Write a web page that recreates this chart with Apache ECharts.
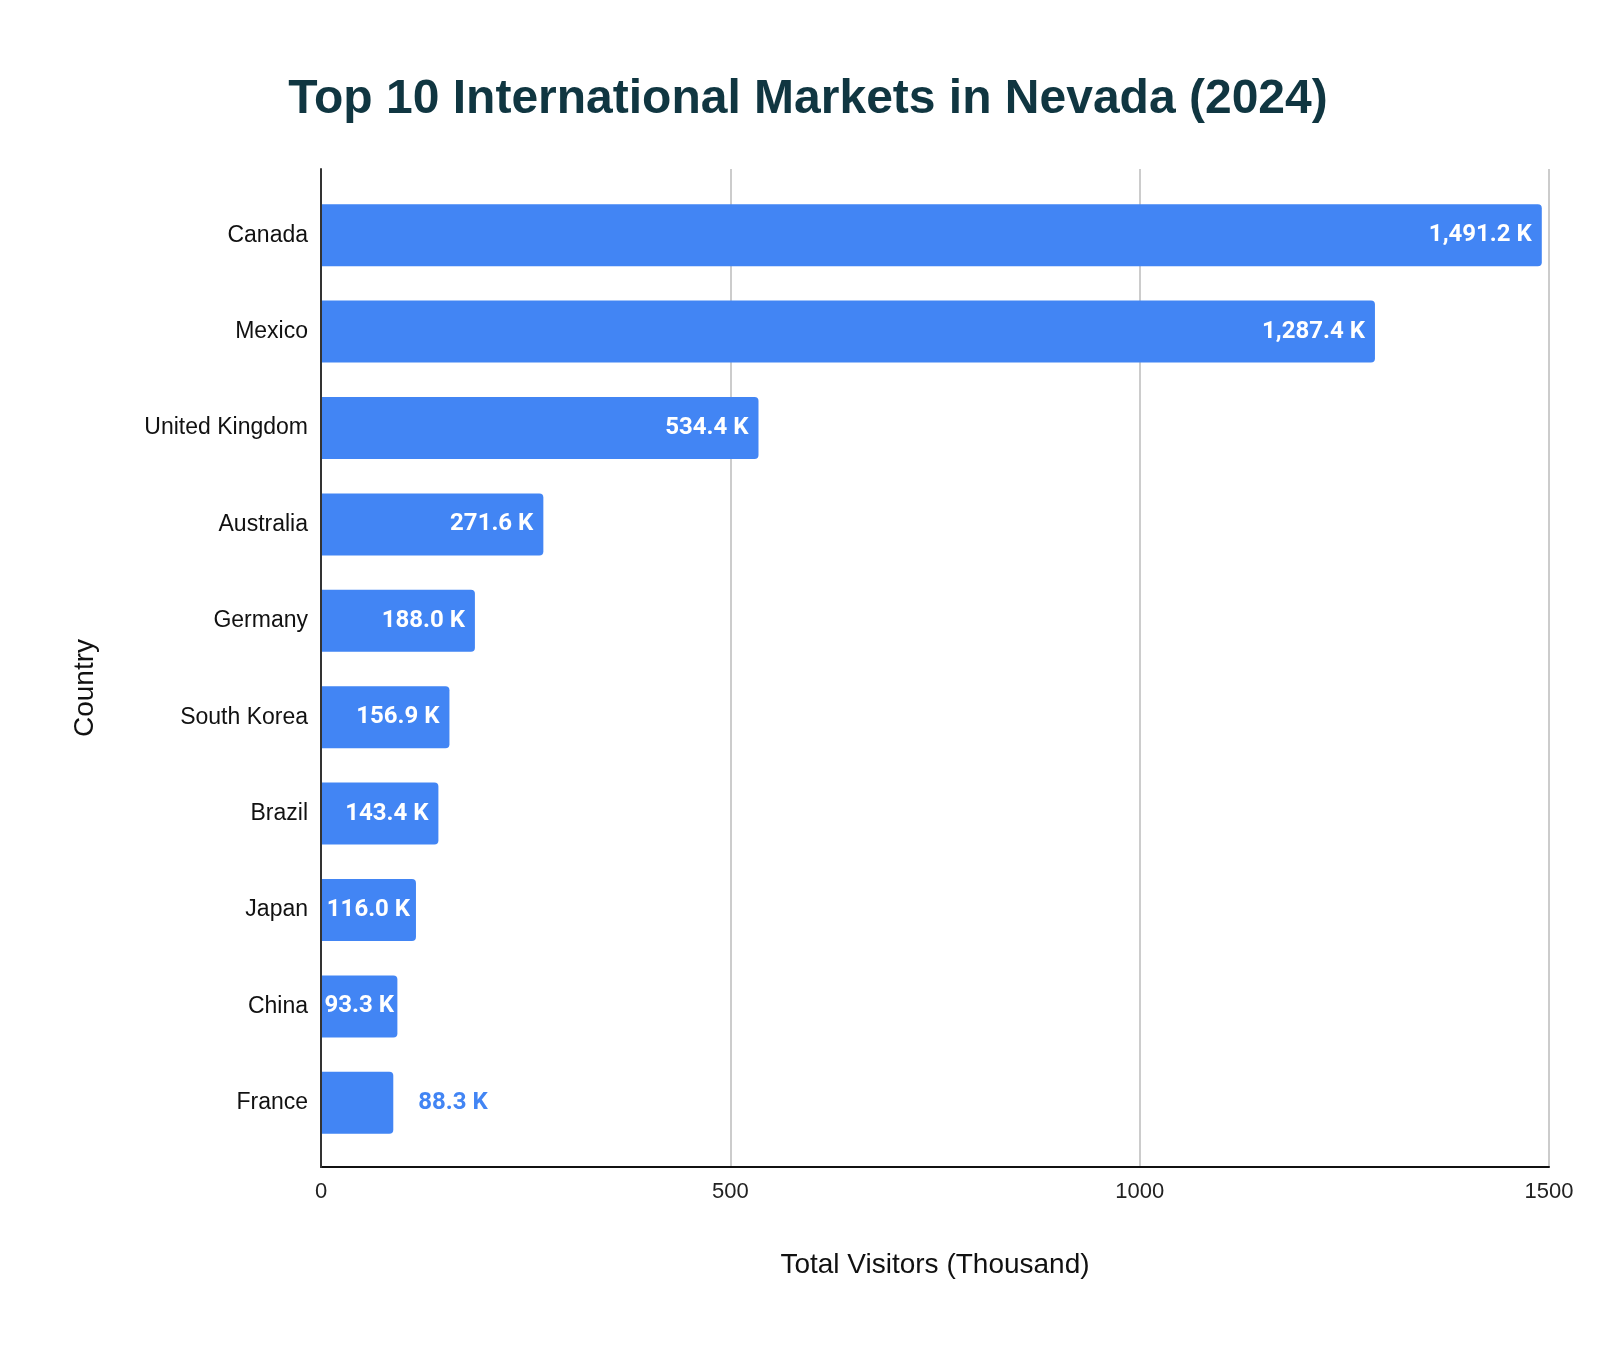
<!DOCTYPE html>
<html>
<head>
<meta charset="UTF-8">
<title>Top 10 International Markets in Nevada (2024)</title>
<script src="https://cdn.jsdelivr.net/npm/echarts@6/dist/echarts.min.js"></script>
<style type="text/css">
  * {margin: 0; padding: 0;}
  html, body {width: 100%; height: 100%; background: #fff;}
  #chart {width: 1616px; height: 1348px;}
</style>
</head>
<body>
<div id="chart"></div>
<script type="text/javascript">
// data
var countries = ['Canada', 'Mexico', 'United Kingdom', 'Australia', 'Germany',
                 'South Korea', 'Brazil', 'Japan', 'China', 'France'];
var visitors = [1491.2, 1287.4, 534.4, 271.6, 188.0, 156.9, 143.4, 116.0, 93.3, 88.3];
var xTicks = [0, 500, 1000, 1500];

var barColor = '#4285f4';

function fmtK(v) {
  return v.toLocaleString('en-US', {minimumFractionDigits: 1, maximumFractionDigits: 1}) + ' K';
}

var chart = echarts.init(document.getElementById('chart'));

var barData = visitors.map(function (v, i) {
  var item = {value: v};
  if (countries[i] === 'France') {
    // label sits outside the bar in the reference
    item.label = {position: 'right', distance: 25, color: barColor};
  } else if (v < 130) {
    // too narrow for right padding: centre the label
    item.label = {position: 'inside'};
  }
  return item;
});

var option = {
  backgroundColor: '#ffffff',
  animation: false,
  title: {
    text: 'Top 10 International Markets in Nevada (2024)',
    left: 'center',
    top: 71,
    textStyle: {
      fontFamily: 'Liberation Sans, Arial, sans-serif',
      fontSize: 48,
      fontWeight: 'bold',
      color: '#103641'
    }
  },
  graphic: [{
    type: 'text',
    x: 85,
    y: 688,
    rotation: Math.PI / 2,
    style: {
      text: 'Country',
      font: '28px "Liberation Sans", Arial, sans-serif',
      fill: '#111',
      textAlign: 'center',
      textVerticalAlign: 'middle'
    }
  }],
  grid: [
    // frame: grid lines and axis lines
    {left: 321, right: 67, top: 169, bottom: 181},
    // bars sit a little inside the frame
    {left: 321, right: 67, top: 187, bottom: 197}
  ],
  xAxis: [
    {
      gridIndex: 0,
      type: 'value',
      min: xTicks[0],
      max: xTicks[xTicks.length - 1],
      interval: xTicks[1] - xTicks[0],
      name: 'Total Visitors (Thousand)',
      nameLocation: 'middle',
      nameGap: 84,
      nameTextStyle: {
        fontFamily: 'Liberation Sans, Arial, sans-serif',
        fontSize: 28,
        color: '#111'
      },
      axisLine: {show: true, lineStyle: {color: '#111', width: 2}},
      axisTick: {show: false},
      axisLabel: {
        margin: 14,
        fontFamily: 'Liberation Sans, Arial, sans-serif',
        fontSize: 22,
        color: '#222',
        formatter: function (v) { return String(v); }
      },
      splitLine: {show: true, lineStyle: {color: '#cccccc', width: 2}}
    },
    {
      gridIndex: 1,
      type: 'value',
      min: xTicks[0],
      max: xTicks[xTicks.length - 1],
      show: false
    }
  ],
  yAxis: [
    {
      gridIndex: 0,
      type: 'value',
      min: 0,
      max: 1,
      axisLine: {show: true, lineStyle: {color: '#333', width: 2}},
      axisTick: {show: false},
      axisLabel: {show: false},
      splitLine: {show: false},
      z: 10
    },
    {
      gridIndex: 1,
      type: 'category',
      inverse: true,
      data: countries,
      axisLine: {show: false},
      axisTick: {show: false},
      axisLabel: {
        margin: 13,
        fontFamily: 'Liberation Sans, Arial, sans-serif',
        fontSize: 23,
        color: '#111'
      }
    }
  ],
  series: [{
    type: 'bar',
    xAxisIndex: 1,
    yAxisIndex: 1,
    data: barData,
    barWidth: 62,
    itemStyle: {color: barColor, borderRadius: [0, 4, 4, 0]},
    label: {
      show: true,
      position: 'insideRight',
      distance: 10,
      formatter: function (p) { return fmtK(p.value); },
      fontFamily: 'Roboto, sans-serif',
      fontWeight: 'bold',
      fontSize: 24,
      color: '#ffffff'
    }
  }]
};

chart.setOption(option);
</script>
</body>
</html>
